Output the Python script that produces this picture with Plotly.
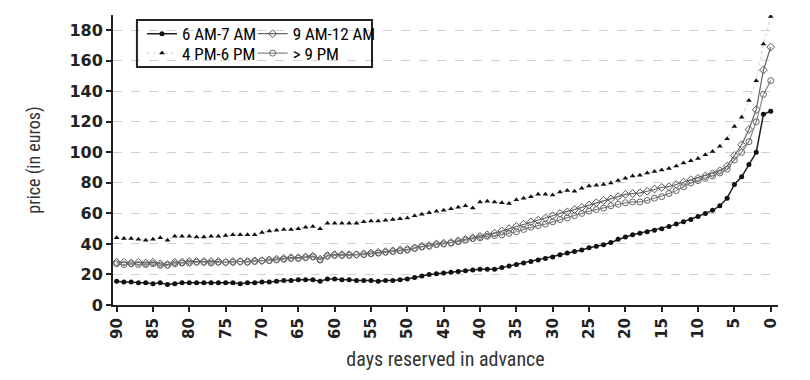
import plotly.graph_objects as go

days = list(range(90, -1, -1))

am6_7 = [15.5, 15, 15, 14.5, 14.5, 14, 14.5, 13.5, 14, 14.5,
         14.5, 14.5, 14.5, 14.5, 14.5, 14.5, 14.5, 14, 14.5, 14.5,
         15, 15, 15.5, 16, 16, 16.5, 16.5, 16.5, 15.5, 17,
         17, 16.5, 16.5, 16, 16, 16, 15.5, 16, 16, 16.5,
         17, 18, 19, 20, 20.5, 21, 21.5, 22, 22.5, 23,
         23.5, 23.5, 23.5, 24.5, 25.5, 26.5, 27.5, 28.5, 29.5, 30.5,
         31.5, 33, 34, 35, 36, 37.5, 38.5, 39.5, 41, 43,
         44.5, 46, 47, 48, 49, 50, 51.5, 53, 54.5, 56,
         58, 60, 62, 65, 70, 79, 84, 92, 100, 125, 127]

pm4_6 = [44, 43.5, 43.5, 43, 42.5, 43, 44, 42.5, 45, 45,
         45, 44.5, 44.5, 45, 45, 45.5, 46, 46, 46, 46,
         47.5, 48.5, 49, 49.5, 49.5, 50, 51, 51.5, 50, 53.5,
         53.5, 53.5, 53.5, 53.5, 54.5, 55, 55, 55.5, 56, 56.5,
         57, 58.5, 59.5, 60.5, 61.5, 62, 63, 64, 65, 63.5,
         67.5, 68, 67.5, 67, 66.5, 69, 70, 71, 72.5, 72.5,
         72, 74, 75, 74.5, 76.5, 78, 78.5, 79, 80, 81.5,
         83, 84.5, 85, 86.5, 87.5, 88.5, 89.5, 91, 93, 94.5,
         96, 98.5, 100.5, 104, 109, 117, 123, 134, 147, 171, 189]

am9_12 = [28, 28, 27.5, 28, 27.5, 28, 27, 26.5, 28, 28,
          28.5, 28.5, 28.5, 28.5, 28.5, 28, 28.5, 28.5, 28.5, 29,
          29, 29.5, 30, 30.5, 31, 31, 31.5, 32, 30, 32.5,
          33, 33, 33, 33, 33.5, 34, 34.5, 35, 35.5, 36,
          36.5, 37.5, 38.5, 39, 40, 40.5, 41, 42, 43, 44,
          45, 46, 47, 48.5, 50, 51.5, 53, 54.5, 55.5, 57,
          58.5, 60, 61, 62.5, 64, 65.5, 67, 68.5, 69.5, 71,
          72.5, 73, 73.5, 74.5, 76, 77, 77.5, 79, 80.5, 82,
          83, 84.5, 86, 88, 91, 98, 105, 115, 128, 154, 169]

pm9 = [27, 26.5, 27, 26.5, 26.5, 27, 26, 26, 27, 27.5,
       27.5, 28, 28, 27.5, 28, 28, 28, 28.5, 28, 28.5,
       29, 29, 29.5, 30, 30.5, 30.5, 31, 31.5, 29.5, 32,
       32.5, 32.5, 32.5, 33, 33, 33.5, 34, 34.5, 35, 35.5,
       36, 37, 38, 38.5, 39.5, 40, 40.5, 41.5, 42.5, 43.5,
       44, 45, 45.5, 46, 47, 48, 49.5, 51, 52, 53,
       54.5, 56, 57, 58.5, 60, 61.5, 62.5, 63.5, 65, 66,
       67, 67.5, 67.5, 68.5, 70, 71, 73, 75, 77.5, 80,
       81.5, 83, 84.5, 86.5, 89, 95, 100, 107, 120, 138, 147]

x_ticks = list(range(90, -1, -5))
y_ticks = list(range(0, 181, 20))

narrow = "Liberation Sans Narrow, Roboto Condensed, DejaVu Sans Condensed, sans-serif"
boldfont = "DejaVu Sans"

fig = go.Figure()
fig.add_trace(go.Scatter(
    x=days, y=am6_7, name="6 AM-7 AM", mode="lines+markers", legend="legend",
    line=dict(color="#222222", width=1.5),
    marker=dict(symbol="circle", size=5, color="#111111")))
fig.add_trace(go.Scatter(
    x=days, y=am9_12, name="9 AM-12 AM", mode="lines+markers", legend="legend2",
    line=dict(color="#666666", width=1.2),
    marker=dict(symbol="diamond-open", size=6, color="#555555", line=dict(width=1))))
fig.add_trace(go.Scatter(
    x=days, y=pm4_6, name="4 PM-6 PM", mode="lines+markers", legend="legend3",
    line=dict(color="#cfcfcf", width=1, dash="dot"),
    marker=dict(symbol="triangle-up", size=5, color="#111111")))
fig.add_trace(go.Scatter(
    x=days, y=pm9, name="> 9 PM", mode="lines+markers", legend="legend4",
    line=dict(color="#888888", width=1.2),
    marker=dict(symbol="circle-open", size=6, color="#666666", line=dict(width=1))))

legend_common = dict(
    bgcolor="rgba(0,0,0,0)", borderwidth=0, orientation="v",
    font=dict(family=narrow, size=17, color="#000000"),
    xanchor="left", yanchor="middle", tracegroupgap=0,
    itemwidth=30)

fig.update_layout(
    width=810, height=380,
    margin=dict(l=105, r=40, t=7, b=83),
    paper_bgcolor="white", plot_bgcolor="white",
    showlegend=True,
    legend=dict(x=0.0436, y=0.934, **legend_common),
    legend2=dict(x=0.21, y=0.934, **legend_common),
    legend3=dict(x=0.0436, y=0.867, **legend_common),
    legend4=dict(x=0.21, y=0.867, **legend_common),
    xaxis=dict(
        range=[90.5, -1], tickmode="array", tickvals=x_ticks,
        ticktext=[str(t) for t in x_ticks], tickangle=-90,
        showgrid=False, zeroline=False,
        showline=True, linecolor="#222222", linewidth=2,
        ticks="outside", ticklen=5, tickwidth=1.5, tickcolor="#222222",
        tickfont=dict(family=boldfont, size=15, color="#222222", weight="bold"),
        title=dict(text="days reserved in advance", standoff=14,
                   font=dict(family=narrow, size=20, color="#333333"))),
    yaxis=dict(
        range=[0, 190], tickmode="array", tickvals=y_ticks,
        showgrid=True, gridcolor="#d0d0d0", griddash="dash", gridwidth=1,
        zeroline=False,
        showline=True, linecolor="#222222", linewidth=2,
        ticks="outside", ticklen=5, tickwidth=1.5, tickcolor="#222222",
        tickfont=dict(family=boldfont, size=16, color="#222222", weight="bold"),
        title=dict(text="price (in euros)", standoff=24,
                   font=dict(family=narrow, size=18, color="#333333"))),
    shapes=[dict(type="rect", xref="paper", yref="paper",
                 x0=0.036, x1=0.3895, y0=0.8207, y1=0.983,
                 line=dict(color="#222222", width=2), fillcolor="rgba(0,0,0,0)")],
)

fig.write_html("out.html")
